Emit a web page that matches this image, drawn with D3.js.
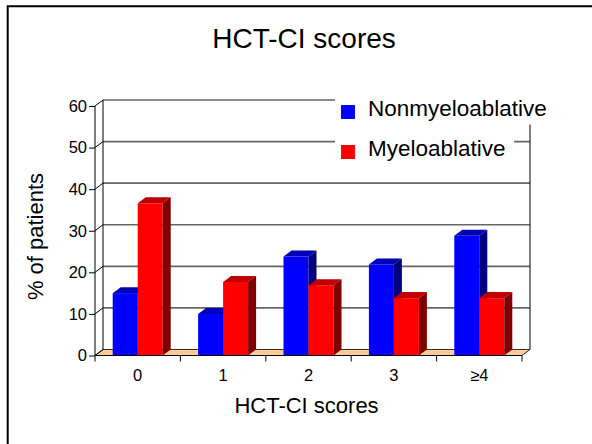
<!DOCTYPE html>
<html>
<head>
<meta charset="utf-8">
<script src="https://cdn.jsdelivr.net/npm/d3@7"></script>
<style>
  html, body { margin: 0; padding: 0; background: #fff; }
  svg { display: block; font-family: "Liberation Sans", Arial, sans-serif; }
</style>
</head>
<body>
<svg id="chart" width="592" height="444"></svg>
<script>
// Score categories and percentage of patients per conditioning regimen
const categories = ["0", "1", "2", "3", "\u22654"];
const seriesNames = ["Nonmyeloablative", "Myeloablative"];
const nonmyeloablative = [15, 10, 23.8, 21.9, 28.8];
const myeloablative = [36.6, 17.7, 16.9, 13.8, 13.8];
const yTicks = [0, 10, 20, 30, 40, 50, 60];

const seriesValues = [nonmyeloablative, myeloablative];
const faceColors = [
  { front: "#0000ff", top: "#0000b8", side: "#000080" },
  { front: "#ff0000", top: "#c00000", side: "#800000" }
];

const svg = d3.select("#chart");
const W = 592, H = 444;

// 3D depth offset of the back wall
const DX = 8, DY = -6;

const x = d3.scaleBand().domain(categories).range([95, 522]).padding(0);
const y = d3.scaleLinear().domain([0, 60]).range([355.5, 106]);
const barW = 25;
const sub = d3.scaleBand().domain(seriesNames)
  .range([x.bandwidth() / 2 - barW, x.bandwidth() / 2 + barW]).padding(0);

svg.append("rect").attr("width", W).attr("height", H).attr("fill", "#fff");

// outer slide frame
svg.append("path")
  .attr("d", `M7.7,${H} L7.7,6.3 L${W},6.3`)
  .attr("fill", "none").attr("stroke", "#000").attr("stroke-width", 2);

// title
svg.append("text")
  .attr("x", 304).attr("y", 47.5)
  .attr("text-anchor", "middle")
  .attr("font-size", 28)
  .attr("fill", "#000")
  .text("HCT-CI scores");

const x0 = x.range()[0], x1 = x.range()[1];
const g = svg.append("g");

// floor
g.append("path")
  .attr("d", `M${x0},${y(0)} L${x1},${y(0)} L${x1 + DX},${y(0) + DY} L${x0 + DX},${y(0) + DY} Z`)
  .attr("fill", "#ffcc99").attr("stroke", "#000").attr("stroke-width", 0.8);

// back-wall gridlines
g.selectAll("line.grid").data(yTicks.filter(d => d > 0)).join("line")
  .attr("class", "grid")
  .attr("x1", x0 + DX).attr("x2", x1 + DX)
  .attr("y1", d => y(d) + DY).attr("y2", d => y(d) + DY)
  .attr("stroke", "#666").attr("stroke-width", 1.6);

// back wall left and right edges
g.append("line")
  .attr("x1", x0 + DX).attr("x2", x0 + DX)
  .attr("y1", y(60) + DY).attr("y2", y(0) + DY)
  .attr("stroke", "#000").attr("stroke-width", 1);
g.append("line")
  .attr("x1", x1 + DX).attr("x2", x1 + DX)
  .attr("y1", y(60) + DY).attr("y2", y(0) + DY)
  .attr("stroke", "#000").attr("stroke-width", 1);

// connectors from the front axis to the back wall
g.selectAll("line.diag").data(yTicks).join("line")
  .attr("class", "diag")
  .attr("x1", x0).attr("x2", x0 + DX)
  .attr("y1", d => y(d)).attr("y2", d => y(d) + DY)
  .attr("stroke", "#000").attr("stroke-width", 1);

// bars
categories.forEach((cat, ci) => {
  seriesNames.forEach((name, si) => {
    const v = seriesValues[si][ci];
    const bx = x(cat) + sub(name);
    const bw = sub.bandwidth();
    const top = y(v), base = y(0);
    const c = faceColors[si];
    const bg = g.append("g");
    bg.append("rect")
      .attr("x", bx).attr("y", top)
      .attr("width", bw).attr("height", base - top)
      .attr("fill", c.front);
    bg.append("path")
      .attr("d", `M${bx},${top} L${bx + bw},${top} L${bx + bw + DX},${top + DY} L${bx + DX},${top + DY} Z`)
      .attr("fill", c.top);
    bg.append("path")
      .attr("d", `M${bx + bw},${top} L${bx + bw + DX},${top + DY} L${bx + bw + DX},${base + DY} L${bx + bw},${base} Z`)
      .attr("fill", c.side);
  });
});

// front y axis
const yAxis = d3.axisLeft(y).tickValues(yTicks).tickSize(6).tickPadding(2);
const ya = svg.append("g").attr("transform", `translate(${x0},0)`).call(yAxis);
ya.select(".domain").attr("stroke", "#000").attr("d", `M0,${y(60)}V${y(0)}`);
ya.selectAll(".tick line").attr("stroke", "#000");
ya.selectAll(".tick text")
  .attr("font-size", 16.5).attr("font-family", "Liberation Sans, Arial, sans-serif")
  .attr("fill", "#000");

// x axis
const xAxis = d3.axisBottom(x).tickSize(0).tickPadding(0);
const xa = svg.append("g").attr("transform", `translate(0,${y(0)})`).call(xAxis);
xa.select(".domain").attr("stroke", "#000").attr("d", `M${x0},0H${x1}`);
xa.selectAll(".tick text")
  .attr("font-size", 16.5).attr("font-family", "Liberation Sans, Arial, sans-serif")
  .attr("fill", "#000").attr("dy", null).attr("y", 25);
// category boundary ticks
xa.selectAll("line.bound").data(categories.concat([null])).join("line")
  .attr("class", "bound")
  .attr("x1", (d, i) => x0 + i * x.step()).attr("x2", (d, i) => x0 + i * x.step())
  .attr("y1", 0).attr("y2", 6)
  .attr("stroke", "#000");

// axis titles
svg.append("text")
  .attr("x", 306.5).attr("y", 413)
  .attr("text-anchor", "middle").attr("font-size", 22).attr("fill", "#000")
  .text("HCT-CI scores");
svg.append("text")
  .attr("transform", "translate(43,236.5) rotate(-90)")
  .attr("text-anchor", "middle").attr("font-size", 22).attr("fill", "#000")
  .text("% of patients");

// legend
const legend = svg.append("g");
const legendBoxes = [
  { x: 335, y: 90, w: 225, h: 34.5 },
  { x: 335, y: 132, w: 179, h: 38 }
];
const legendColors = faceColors.map(c => c.front);
seriesNames.forEach((name, i) => {
  const b = legendBoxes[i];
  legend.append("rect").attr("x", b.x).attr("y", b.y).attr("width", b.w).attr("height", b.h).attr("fill", "#fff");
  const ly = 105 + i * 40;
  legend.append("rect").attr("x", 341).attr("y", ly).attr("width", 14).attr("height", 14).attr("fill", legendColors[i]);
  legend.append("text").attr("x", 368).attr("y", ly + 10.5)
    .attr("font-size", 22.5).attr("fill", "#000").text(name);
});
</script>
</body>
</html>
